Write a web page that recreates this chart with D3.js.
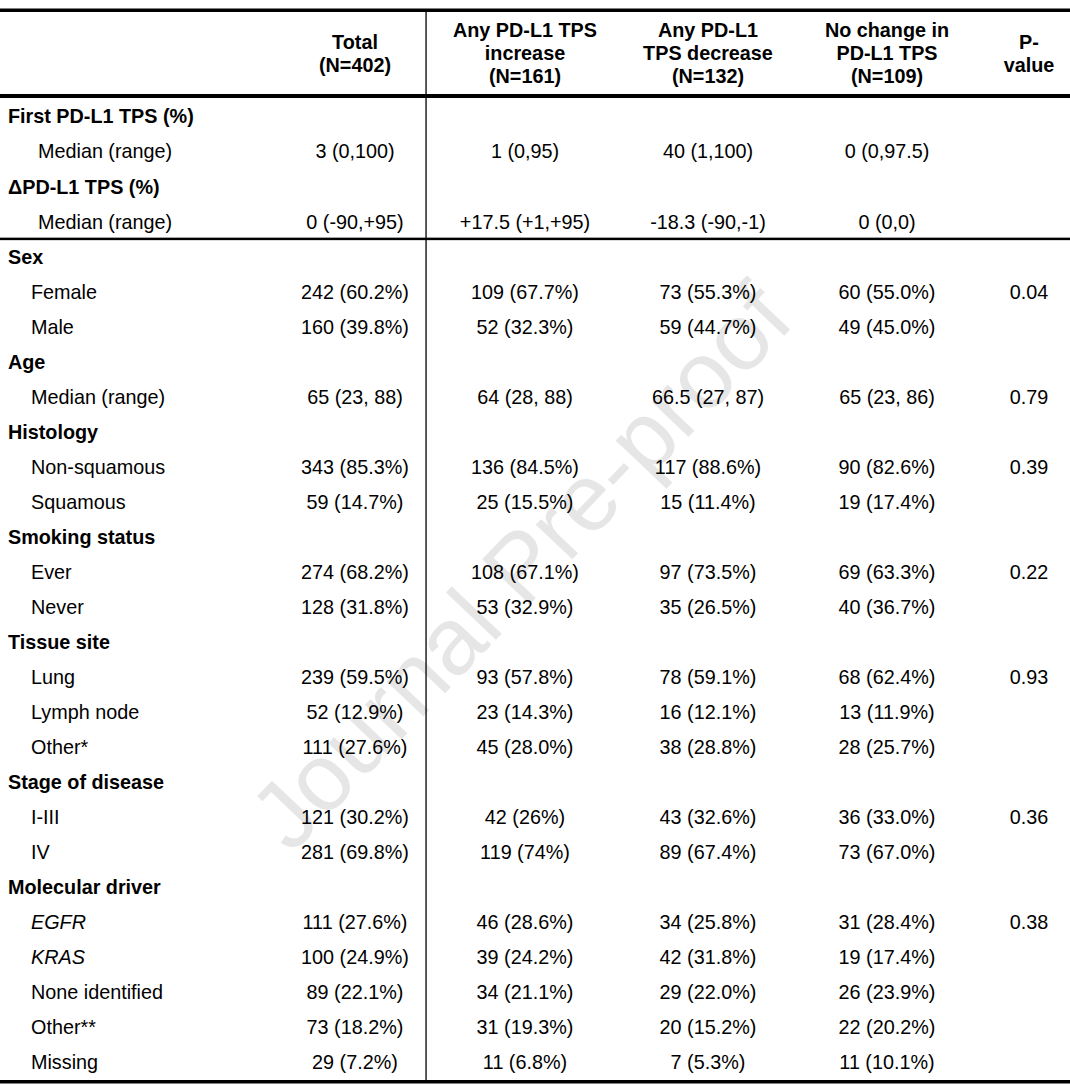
<!DOCTYPE html>
<html><head><meta charset="utf-8">
<script src="https://cdn.jsdelivr.net/npm/d3@7"></script>
<style>
html,body{margin:0;padding:0;background:#fff;}
svg text{font-family:"Liberation Sans",Arial,sans-serif;font-size:19.8px;fill:#000;}
</style></head>
<body>
<svg id="chart" width="1070" height="1085"></svg>
<script>
// ---- data ----
const columnKeys = ["label","total","inc","dec","none","p"];
const headerLines = {
  total: ["Total","(N=402)"],
  inc: ["Any PD-L1 TPS","increase","(N=161)"],
  dec: ["Any PD-L1","TPS decrease","(N=132)"],
  none: ["No change in","PD-L1 TPS","(N=109)"],
  p: ["P-","value"]
};
const rowLabels = ["First PD-L1 TPS (%)","Median (range)","ΔPD-L1 TPS (%)","Median (range)",
  "Sex","Female","Male","Age","Median (range)","Histology","Non-squamous","Squamous",
  "Smoking status","Ever","Never","Tissue site","Lung","Lymph node","Other*",
  "Stage of disease","I-III","IV","Molecular driver","EGFR","KRAS","None identified","Other**","Missing"];
const rowKinds = ["group","item","group","item","group","item","item","group","item","group","item","item",
  "group","item","item","group","item","item","item","group","item","item","group","italic","italic","item","item","item"];
const totalVals = ["","3 (0,100)","","0 (-90,+95)","","242 (60.2%)","160 (39.8%)","","65 (23, 88)","","343 (85.3%)","59 (14.7%)",
  "","274 (68.2%)","128 (31.8%)","","239 (59.5%)","52 (12.9%)","111 (27.6%)","","121 (30.2%)","281 (69.8%)",
  "","111 (27.6%)","100 (24.9%)","89 (22.1%)","73 (18.2%)","29 (7.2%)"];
const increaseVals = ["","1 (0,95)","","+17.5 (+1,+95)","","109 (67.7%)","52 (32.3%)","","64 (28, 88)","","136 (84.5%)","25 (15.5%)",
  "","108 (67.1%)","53 (32.9%)","","93 (57.8%)","23 (14.3%)","45 (28.0%)","","42 (26%)","119 (74%)",
  "","46 (28.6%)","39 (24.2%)","34 (21.1%)","31 (19.3%)","11 (6.8%)"];
const decreaseVals = ["","40 (1,100)","","-18.3 (-90,-1)","","73 (55.3%)","59 (44.7%)","","66.5 (27, 87)","","117 (88.6%)","15 (11.4%)",
  "","97 (73.5%)","35 (26.5%)","","78 (59.1%)","16 (12.1%)","38 (28.8%)","","43 (32.6%)","89 (67.4%)",
  "","34 (25.8%)","42 (31.8%)","29 (22.0%)","20 (15.2%)","7 (5.3%)"];
const noChangeVals = ["","0 (0,97.5)","","0 (0,0)","","60 (55.0%)","49 (45.0%)","","65 (23, 86)","","90 (82.6%)","19 (17.4%)",
  "","69 (63.3%)","40 (36.7%)","","68 (62.4%)","13 (11.9%)","28 (25.7%)","","36 (33.0%)","73 (67.0%)",
  "","31 (28.4%)","19 (17.4%)","26 (23.9%)","22 (20.2%)","11 (10.1%)"];
const pVals = ["","","","","","0.04","","","0.79","","0.39","",
  "","0.22","","","0.93","","","","0.36","",
  "","0.38","","","",""];
const watermark = "Journal Pre-proof";

// ---- layout ----
const W = 1070, H = 1085;
const svg = d3.select("#chart");
const x = d3.scaleOrdinal().domain(columnKeys).range([8, 355, 525, 708, 887, 1029]);
const y = d3.scaleBand().domain(d3.range(rowLabels.length)).range([99, 1080]);
const sepX = 426;

// watermark
svg.append("text")
  .attr("transform", "translate(520,566) rotate(-46.5)")
  .attr("text-anchor", "middle").attr("dy", "0.35em")
  .style("font-size", "95px").style("fill", "#e6e6e6")
  .text(watermark);

// header
const hdr = svg.append("g");
Object.entries(headerLines).forEach(([k, lines]) => {
  const lh = 23, mid = 53.5;
  const y0 = mid - (lines.length - 1) * lh / 2;
  lines.forEach((t, i) => {
    hdr.append("text").attr("x", x(k)).attr("y", y0 + i * lh).attr("dy", "0.35em")
      .attr("text-anchor", "middle").style("font-weight", "bold").text(t);
  });
});

// body rows
const valueCols = {total: totalVals, inc: increaseVals, dec: decreaseVals, none: noChangeVals, p: pVals};
const rows = svg.append("g").selectAll("g").data(rowLabels.map((l, i) => ({l, i, kind: rowKinds[i]})))
  .join("g").attr("transform", d => `translate(0,${y(d.i) + y.bandwidth() / 2})`);
rows.append("text")
  .attr("x", d => d.kind === "group" ? x("label") : (d.i < 4 ? 38 : 31))
  .attr("dy", "0.35em")
  .style("font-weight", d => d.kind === "group" ? "bold" : "normal")
  .style("font-style", d => d.kind === "italic" ? "italic" : "normal")
  .text(d => d.l);
Object.entries(valueCols).forEach(([k, arr]) => {
  rows.append("text").attr("x", x(k)).attr("dy", "0.35em").attr("text-anchor", "middle")
    .text(d => arr[d.i]);
});

// rules
svg.append("rect").attr("x", 0).attr("y", 8.5).attr("width", W).attr("height", 3.5).attr("fill", "#000");
svg.append("rect").attr("x", 0).attr("y", 94).attr("width", W).attr("height", 4).attr("fill", "#000");
svg.append("rect").attr("x", 0).attr("y", y(4) - 1.5).attr("width", W).attr("height", 2.5).attr("fill", "#000");
svg.append("rect").attr("x", 0).attr("y", 1080).attr("width", W).attr("height", 3.5).attr("fill", "#000");
svg.append("rect").attr("x", sepX - 0.6).attr("y", 12).attr("width", 1.3).attr("height", 1068).attr("fill", "#000");
</script>
</body></html>
